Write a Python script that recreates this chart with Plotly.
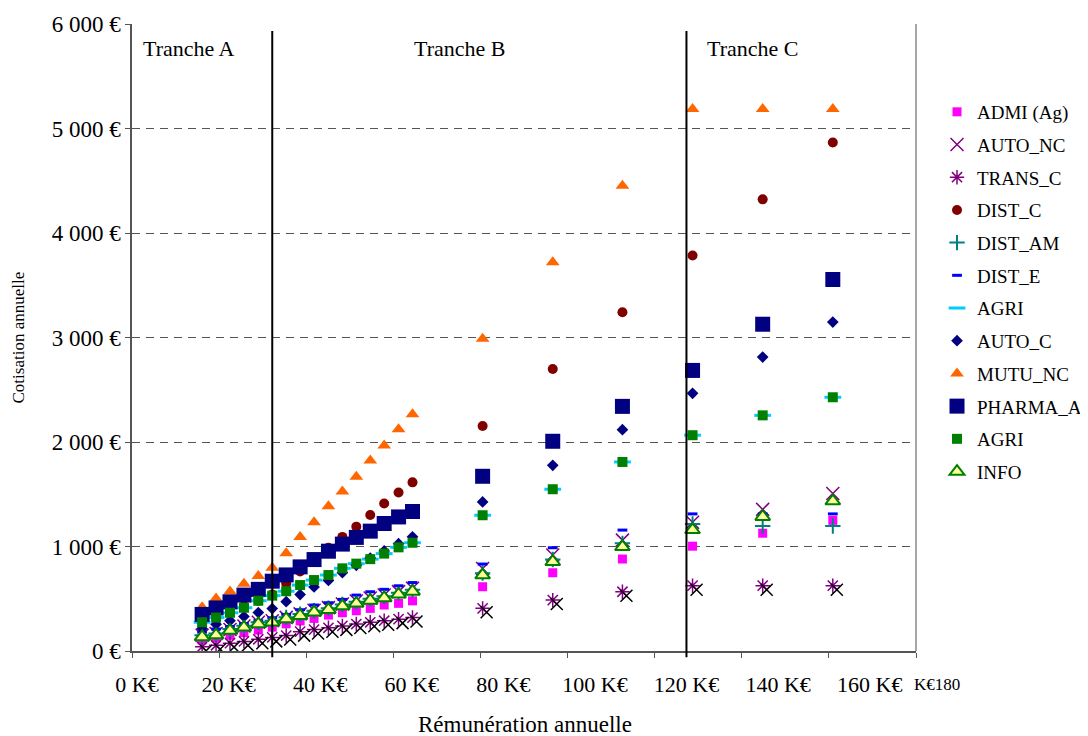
import plotly.graph_objects as go

# ---------------- data ----------------
remuneration = [16.1, 19.3, 22.5, 25.7, 29.0, 32.2, 35.4, 38.6, 41.8, 45.1, 48.3,
                51.5, 54.7, 57.9, 61.2, 64.4, 80.5, 96.6, 112.6, 128.7, 144.8, 160.9]

admi_ag   = [105, 125, 150, 175, 200, 228, 260, 288, 312, 344, 366, 385, 408, 440, 456, 480,
             615, 749, 880, 1003, 1127, 1250]
auto_nc   = [150, 168, 205, 240, 275, 290, 322, 355, 390, 415, 450, 478, 508, 535, 568, 600,
             790, 918, 1061, 1232, 1355, 1508]
trans_c   = [40, 55, 75, 92, 112, 130, 148, 185, 205, 222, 240, 258, 275, 290, 305, 320,
             408, 487, 567, 625, 625, 625]
dist_c    = [290, 330, 380, 430, 480, 540, 645, 760, 872, 988, 1092, 1190, 1302, 1411, 1516, 1614,
             2153, 2698, 3242, 3784, 4322, 4866]
dist_am   = [150, 168, 210, 242, 274, 290, 322, 353, 385, 410, 445, 471, 499, 523, 557, 585,
             745, 875, 1030, 1215, 1196, 1196]
dist_e    = [180, 210, 235, 262, 290, 318, 350, 395, 440, 462, 494, 535, 567, 590, 624, 655,
             832, 988, 1157, 1312, 1312, 1312]
agri_cyan = [275, 320, 366, 414, 481, 530, 572, 631, 679, 727, 791, 836, 879, 932, 992, 1036,
             1299, 1548, 1809, 2065, 2255, 2428]
auto_c    = [215, 255, 290, 330, 368, 406, 472, 540, 613, 675, 750, 820, 889, 958, 1027, 1093,
             1427, 1777, 2118, 2466, 2813, 3148]
mutu_nc   = [418, 502, 569, 644, 718, 797, 935, 1091, 1233, 1385, 1527, 1668, 1822, 1966, 2122, 2266,
             2988, 3720, 4453, 5186, 5186, 5186]
pharma_a  = [350, 412, 470, 535, 590, 668, 728, 805, 875, 955, 1023, 1087, 1147, 1220, 1283, 1335,
             1672, 2007, 2341, 2685, 3127, 3555]
agri_green = [275, 320, 366, 414, 481, 530, 572, 631, 679, 727, 791, 836, 879, 932, 992, 1036,
              1299, 1548, 1809, 2065, 2255, 2428]
info      = [135, 152, 195, 227, 259, 275, 307, 338, 372, 395, 430, 456, 484, 508, 542, 570,
             727, 854, 997, 1160, 1285, 1435]

series_names = ["ADMI (Ag)", "AUTO_NC", "TRANS_C", "DIST_C", "DIST_AM", "DIST_E",
                "AGRI", "AUTO_C", "MUTU_NC", "PHARMA_A", "AGRI", "INFO"]

y_tick_values = [0, 1000, 2000, 3000, 4000, 5000, 6000]
y_tick_labels = ["0 €", "1 000 €", "2 000 €", "3 000 €", "4 000 €", "5 000 €", "6 000 €"]
x_tick_values = [0, 20, 40, 60, 80, 100, 120, 140, 160, 180]
x_label_values = [0, 20, 40, 60, 80, 100, 120, 140, 160]
x_label_texts = ["0 K€", "20 K€", "40 K€", "60 K€", "80 K€", "100 K€", "120 K€", "140 K€", "160 K€"]
last_x_label = "K€180"
tranche_bounds = [32.2, 127.3]
tranche_labels = ["Tranche A", "Tranche B", "Tranche C"]

# ---------------- styles ----------------
styles = [
    dict(symbol="square", size=9, color="#FF00FF"),
    dict(symbol="x-thin-open", size=13, color="#800080", line=dict(color="#800080", width=1.5)),
    dict(symbol="asterisk-open", size=12, color="#800080", line=dict(color="#800080", width=1.5)),
    dict(symbol="circle", size=10, color="#800000"),
    dict(symbol="cross-thin-open", size=11, color="#008080", line=dict(color="#008080", width=2)),
    dict(symbol="line-ew-open", size=7, color="#0000FF", line=dict(color="#0000FF", width=3)),
    dict(symbol="line-ew-open", size=12, color="#00CCFF", line=dict(color="#00CCFF", width=3)),
    dict(symbol="diamond", size=9, color="#000080"),
    dict(symbol="triangle-up", size=12, color="#FF6600"),
    dict(symbol="square", size=15, color="#000080"),
    dict(symbol="square", size=10, color="#008000"),
    dict(symbol="triangle-up", size=13, color="#FFFF99", line=dict(color="#008000", width=2)),
]
series_values = [admi_ag, auto_nc, trans_c, dist_c, dist_am, dist_e,
                 agri_cyan, auto_c, mutu_nc, pharma_a, agri_green, info]

fig = go.Figure()
for i, (name, vals, st) in enumerate(zip(series_names, series_values, styles)):
    fig.add_trace(go.Scatter(
        x=remuneration, y=vals, mode="markers", name=name,
        legendgroup=f"g{i}", marker=st, showlegend=True,
    ))

# black cross drawn slightly offset behind TRANS_C stars (as in the original rendering)
fig.add_trace(go.Scatter(
    x=remuneration, y=trans_c, mode="markers", xaxis="x3", yaxis="y3",
    showlegend=False, hoverinfo="skip",
    marker=dict(symbol="x-thin-open", size=12, color="black", line=dict(color="black", width=1.5)),
))
# carrier for the tick-label axis
fig.add_trace(go.Scatter(x=[], y=[], xaxis="x2", showlegend=False, hoverinfo="skip"))

shapes = []
for b in tranche_bounds:
    shapes.append(dict(type="line", xref="x", yref="paper", x0=b, x1=b, y0=-0.01, y1=0.989,
                       line=dict(color="black", width=2)))
shapes.append(dict(type="line", xref="paper", yref="paper", x0=1, x1=1, y0=0, y1=1,
                   line=dict(color="#888888", width=1.5)))

annotations = []
for txt, xp in zip(tranche_labels, [0.0727, 0.418, 0.791]):
    annotations.append(dict(text=txt, x=xp, y=0.9617, xref="paper", yref="paper",
                            xanchor="center", yanchor="middle",
                            showarrow=False, font=dict(size=22, family="Liberation Serif")))
annotations.append(dict(text="Rémunération annuelle", x=0.501, y=-0.118, xref="paper", yref="paper",
                        xanchor="center", yanchor="middle",
                        showarrow=False, font=dict(size=23, family="Liberation Serif")))
annotations.append(dict(text="Cotisation annuelle", x=-0.1454, y=0.5, xref="paper", yref="paper",
                        xanchor="center", yanchor="middle",
                        showarrow=False, textangle=-90, font=dict(size=17, family="Liberation Serif")))
annotations.append(dict(text=last_x_label, x=1.0268, y=-0.0542, xref="paper", yref="paper",
                        xanchor="center", yanchor="middle",
                        showarrow=False, font=dict(size=17, family="Liberation Serif")))

fig.update_layout(
    width=1080, height=728,
    margin=dict(l=124, r=172, t=16, b=85, autoexpand=False),
    plot_bgcolor="white", paper_bgcolor="white",
    font=dict(family="Liberation Serif", color="black", size=20),
    showlegend=True,
    legend=dict(x=1.0268, xanchor="left", y=0.890, yanchor="top",
                traceorder="grouped", tracegroupgap=5,
                font=dict(size=19, family="Liberation Serif"),
                bgcolor="rgba(0,0,0,0)"),
    xaxis=dict(range=[0, 180], tickvals=x_tick_values, showticklabels=False,
               ticks="outside", ticklen=5, tickcolor="#555555",
               showline=True, linecolor="#555555", linewidth=1.5,
               showgrid=False, zeroline=False),
    xaxis2=dict(overlaying="x", anchor="y", side="bottom", range=[-1.09, 170.1],
                tickvals=x_label_values, ticktext=x_label_texts,
                ticks="outside", ticklen=14, tickcolor="rgba(0,0,0,0)",
                showline=False, showgrid=False, zeroline=False,
                tickfont=dict(size=22, family="Liberation Serif")),
    xaxis3=dict(overlaying="x", anchor="y3", range=[-0.92, 179.08], visible=False),
    yaxis=dict(range=[0, 6000], tickvals=y_tick_values, ticktext=y_tick_labels,
               ticks="outside", ticklen=5, tickcolor="#555555",
               showline=True, linecolor="#555555", linewidth=1.5,
               showgrid=True, gridcolor="#555555", gridwidth=1, griddash="8px,6px",
               zeroline=False, tickfont=dict(size=23, family="Liberation Serif")),
    yaxis3=dict(overlaying="y", anchor="x3", range=[38, 6038], visible=False),
    shapes=shapes,
    annotations=annotations,
)

fig.write_html("out.html")
